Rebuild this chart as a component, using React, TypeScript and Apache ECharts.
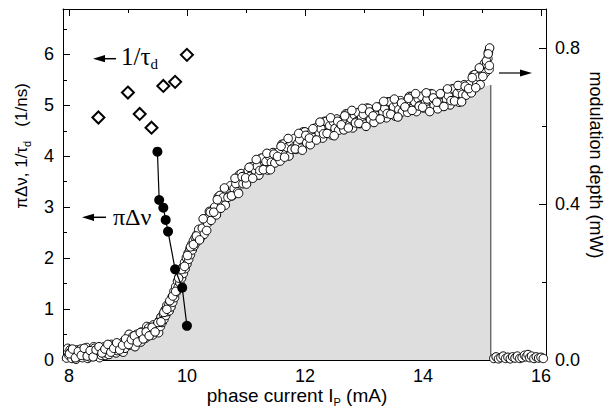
import React, { useEffect, useRef } from 'react';
import * as echarts from 'echarts';

// ---- axis ticks ----
const xTickMajor = [8, 10, 12, 14, 16];
const xTickMinor = [9, 11, 13, 15];
const yLeftMajor = [0, 1, 2, 3, 4, 5, 6];
const yLeftMinor = [0.5, 1.5, 2.5, 3.5, 4.5, 5.5, 6.5];
const yRightMajor = [0, 0.4, 0.8];
const yRightMinor = [0.2, 0.6];

// ---- data ----
// 1/tau_d (1/ns), open diamonds, left axis
const invTauD: number[][] = [
  [8.5, 4.76], [9.0, 5.25], [9.2, 4.83], [9.4, 4.56], [9.6, 5.38], [9.8, 5.46], [10.0, 5.99],
];
// pi*delta nu (1/ns), filled circles + line, left axis
const piDeltaNu: number[][] = [
  [9.5, 4.09], [9.53, 3.14], [9.6, 2.99], [9.64, 2.75], [9.68, 2.52], [9.8, 1.78], [9.92, 1.42], [10.0, 0.67],
];
// modulation depth (mW), open circles, right axis - first sweep
const modDepthA: number[][] = [
  [7.96, 0.005], [7.98, 0.03], [8.0, 0.012], [8.02, 0.026], [8.03, 0.02], [8.05, 0.004], [8.08, 0.018], [8.1, 0.01],
  [8.12, 0.002], [8.13, 0.026], [8.15, 0.008], [8.18, 0.016], [8.2, 0.028], [8.22, 0.02], [8.23, 0.006], [8.25, 0.02],
  [8.28, 0.012], [8.3, 0.032], [8.32, 0.004], [8.33, 0.016], [8.35, 0.008], [8.38, 0.024], [8.4, 0.018], [8.42, 0.034],
  [8.43, 0.03], [8.45, 0.01], [8.48, 0.022], [8.5, 0.016], [8.52, 0.006], [8.53, 0.028], [8.55, 0.012], [8.58, 0.024],
  [8.6, 0.034], [8.62, 0.012], [8.63, 0.018], [8.65, 0.026], [8.68, 0.014], [8.7, 0.03], [8.72, 0.04], [8.73, 0.022],
  [8.75, 0.036], [8.78, 0.026], [8.8, 0.018], [8.82, 0.024], [8.83, 0.032], [8.85, 0.04], [8.88, 0.028], [8.9, 0.036],
  [8.92, 0.02], [8.93, 0.048], [8.95, 0.03], [8.98, 0.042], [9.0, 0.055], [9.02, 0.066], [9.03, 0.038], [9.05, 0.046],
  [9.08, 0.06], [9.1, 0.044], [9.12, 0.034], [9.13, 0.052], [9.15, 0.066], [9.18, 0.05], [9.2, 0.058], [9.22, 0.046],
  [9.23, 0.072], [9.25, 0.06], [9.28, 0.068], [9.3, 0.056], [9.32, 0.086], [9.33, 0.074], [9.35, 0.082], [9.38, 0.066],
  [9.4, 0.076], [9.42, 0.064], [9.43, 0.09], [9.45, 0.078], [9.48, 0.086], [9.5, 0.092], [9.51, 0.078], [9.52, 0.07],
  [9.53, 0.1], [9.55, 0.086], [9.56, 0.11], [9.58, 0.096], [9.6, 0.118], [9.61, 0.104], [9.63, 0.128], [9.64, 0.114],
  [9.66, 0.14], [9.67, 0.124], [9.69, 0.14], [9.7, 0.126], [9.72, 0.15], [9.73, 0.136], [9.75, 0.162], [9.76, 0.148],
  [9.78, 0.176], [9.79, 0.16], [9.81, 0.188], [9.82, 0.174], [9.84, 0.202], [9.85, 0.186], [9.87, 0.214], [9.88, 0.198],
  [9.9, 0.226], [9.91, 0.21], [9.93, 0.238], [9.94, 0.222], [9.96, 0.25], [9.97, 0.234], [9.99, 0.262], [10.0, 0.246],
  [10.02, 0.274], [10.03, 0.258], [10.05, 0.284], [10.06, 0.27], [10.08, 0.296], [10.09, 0.282], [10.11, 0.306], [10.12, 0.292],
  [10.14, 0.314], [10.15, 0.3], [10.17, 0.322], [10.18, 0.308],
  [10.2, 0.335], [10.23, 0.314], [10.26, 0.338], [10.29, 0.322], [10.32, 0.362], [10.35, 0.351], [10.38, 0.381], [10.41, 0.358],
  [10.44, 0.378], [10.47, 0.392], [10.5, 0.372], [10.53, 0.418], [10.56, 0.422], [10.59, 0.398], [10.62, 0.418], [10.65, 0.397],
  [10.68, 0.434], [10.71, 0.42], [10.74, 0.447], [10.77, 0.421], [10.8, 0.44], [10.83, 0.452], [10.86, 0.431], [10.89, 0.475],
  [10.92, 0.478], [10.95, 0.452], [10.98, 0.472], [11.01, 0.451], [11.04, 0.486], [11.07, 0.471], [11.1, 0.496], [11.13, 0.469],
  [11.16, 0.486], [11.19, 0.497], [11.22, 0.474], [11.25, 0.517], [11.28, 0.518], [11.31, 0.491], [11.34, 0.509], [11.37, 0.487],
  [11.4, 0.522], [11.43, 0.507], [11.46, 0.532], [11.49, 0.505], [11.52, 0.522], [11.55, 0.533], [11.58, 0.51], [11.61, 0.553],
  [11.64, 0.554], [11.67, 0.527], [11.7, 0.545], [11.73, 0.523], [11.76, 0.558], [11.79, 0.543], [11.82, 0.568], [11.85, 0.54],
  [11.88, 0.556], [11.91, 0.566], [11.94, 0.543], [11.97, 0.585], [12.0, 0.585], [12.03, 0.557], [12.06, 0.575], [12.09, 0.552],
  [12.12, 0.586], [12.15, 0.57], [12.18, 0.595], [12.21, 0.567], [12.24, 0.583], [12.27, 0.593], [12.3, 0.569], [12.33, 0.612],
  [12.36, 0.612], [12.39, 0.584], [12.42, 0.601], [12.45, 0.577], [12.48, 0.611], [12.51, 0.594], [12.54, 0.618], [12.57, 0.589],
  [12.6, 0.605], [12.63, 0.614], [12.66, 0.59], [12.69, 0.631], [12.72, 0.631], [12.75, 0.602], [12.78, 0.619], [12.81, 0.595],
  [12.84, 0.628], [12.87, 0.611], [12.9, 0.634], [12.93, 0.606], [12.96, 0.621], [12.99, 0.63], [13.02, 0.605], [13.05, 0.646],
  [13.08, 0.645], [13.11, 0.616], [13.14, 0.633], [13.17, 0.609], [13.2, 0.642], [13.23, 0.626], [13.26, 0.649], [13.29, 0.621],
  [13.32, 0.636], [13.35, 0.646], [13.38, 0.621], [13.41, 0.662], [13.44, 0.662], [13.47, 0.633], [13.5, 0.649], [13.53, 0.625],
  [13.56, 0.658], [13.59, 0.642], [13.62, 0.665], [13.65, 0.636], [13.68, 0.651], [13.71, 0.66], [13.74, 0.635], [13.77, 0.676],
  [13.8, 0.675], [13.83, 0.646], [13.86, 0.662], [13.89, 0.637], [13.92, 0.67], [13.95, 0.653], [13.98, 0.676], [14.01, 0.646],
  [14.04, 0.66], [14.07, 0.669], [14.1, 0.643], [14.13, 0.683], [14.16, 0.682], [14.19, 0.652], [14.22, 0.668], [14.25, 0.644],
  [14.28, 0.676], [14.31, 0.659], [14.34, 0.682], [14.37, 0.653], [14.4, 0.668], [14.43, 0.678], [14.46, 0.654], [14.49, 0.695],
  [14.52, 0.695], [14.55, 0.667], [14.58, 0.684], [14.61, 0.661], [14.64, 0.696], [14.67, 0.681], [14.7, 0.706], [14.73, 0.679],
  [14.76, 0.696], [14.79, 0.707], [14.82, 0.685], [14.85, 0.73], [14.88, 0.732], [14.91, 0.707], [14.94, 0.726], [14.97, 0.706],
  [15.0, 0.742], [15.02, 0.731], [15.04, 0.76], [15.06, 0.737], [15.08, 0.758], [15.1, 0.773], [15.11, 0.79], [15.12, 0.745],
  [15.13, 0.8],
];
// modulation depth (mW) - second sweep
const modDepthB: number[][] = [
  [8.01, 0.016], [8.06, 0.028], [8.11, 0.006], [8.16, 0.022], [8.21, 0.012], [8.26, 0.03], [8.31, 0.01], [8.36, 0.024],
  [8.41, 0.008], [8.46, 0.026], [8.51, 0.034], [8.56, 0.018], [8.61, 0.028], [8.66, 0.04], [8.71, 0.02], [8.76, 0.03],
  [8.81, 0.044], [8.86, 0.026], [8.91, 0.038], [8.96, 0.054], [9.01, 0.04], [9.06, 0.052], [9.11, 0.062], [9.16, 0.046],
  [9.21, 0.07], [9.26, 0.054], [9.31, 0.072], [9.36, 0.062], [9.41, 0.084], [9.46, 0.072], [9.51, 0.096], [9.56, 0.098],
  [9.61, 0.122], [9.66, 0.13], [9.71, 0.152], [9.76, 0.164], [9.81, 0.176], [9.86, 0.21], [9.91, 0.232], [9.96, 0.24],
  [10.01, 0.268], [10.06, 0.29], [10.11, 0.296], [10.16, 0.318],
  [10.215, 0.308], [10.275, 0.362], [10.335, 0.332], [10.395, 0.379], [10.455, 0.379], [10.515, 0.411], [10.575, 0.389], [10.635, 0.441],
  [10.695, 0.417], [10.755, 0.421], [10.815, 0.466], [10.875, 0.427], [10.935, 0.47], [10.995, 0.467], [11.055, 0.494], [11.115, 0.466],
  [11.175, 0.514], [11.235, 0.486], [11.295, 0.488], [11.355, 0.53], [11.415, 0.488], [11.475, 0.528], [11.535, 0.522], [11.595, 0.548],
  [11.655, 0.52], [11.715, 0.568], [11.775, 0.54], [11.835, 0.541], [11.895, 0.581], [11.955, 0.538], [12.015, 0.576], [12.075, 0.569],
  [12.135, 0.593], [12.195, 0.564], [12.255, 0.61], [12.315, 0.58], [12.375, 0.581], [12.435, 0.621], [12.495, 0.575], [12.555, 0.612],
  [12.615, 0.603], [12.675, 0.626], [12.735, 0.595], [12.795, 0.64], [12.855, 0.608], [12.915, 0.607], [12.975, 0.645], [13.035, 0.599],
  [13.095, 0.636], [13.155, 0.626], [13.215, 0.649], [13.275, 0.618], [13.335, 0.663], [13.395, 0.632], [13.455, 0.63], [13.515, 0.669],
  [13.575, 0.623], [13.635, 0.659], [13.695, 0.649], [13.755, 0.671], [13.815, 0.64], [13.875, 0.683], [13.935, 0.651], [13.995, 0.648],
  [14.055, 0.685], [14.115, 0.637], [14.175, 0.672], [14.235, 0.661], [14.295, 0.683], [14.355, 0.65], [14.415, 0.695], [14.475, 0.665],
  [14.535, 0.664], [14.595, 0.704], [14.655, 0.662], [14.715, 0.702], [14.775, 0.696], [14.835, 0.724], [14.895, 0.698], [14.955, 0.749],
  [15.015, 0.727], [15.075, 0.767], [15.105, 0.785], [15.125, 0.755],
];
// modulation depth beyond the self-pulsation range (mW)
const modDepthOff: number[][] = [
  [15.2, 0.004], [15.24, 0.008], [15.28, 0.003], [15.32, 0.006], [15.36, 0.01], [15.4, 0.004], [15.44, 0.007], [15.48, 0.003],
  [15.52, 0.008], [15.56, 0.005], [15.6, 0.01], [15.64, 0.004], [15.68, 0.006], [15.72, 0.012], [15.75, 0.008], [15.78, 0.014],
  [15.81, 0.006], [15.84, 0.01], [15.88, 0.004], [15.92, 0.008], [15.96, 0.005], [16.0, 0.007], [16.04, 0.004],
];
// shaded self-pulsation region upper edge (mW)
const pulsationEdge: number[][] = [
  [7.97, 0], [8.2, 0.012], [8.6, 0.022], [9.0, 0.035], [9.3, 0.055], [9.5, 0.078], [9.7, 0.12], [9.8, 0.15],
  [9.9, 0.19], [10.0, 0.23], [10.1, 0.27], [10.2, 0.3], [10.4, 0.355], [10.6, 0.4], [10.8, 0.43], [11.0, 0.46],
  [11.4, 0.5], [11.8, 0.54], [12.2, 0.57], [12.6, 0.595], [13.0, 0.612], [13.4, 0.63], [13.8, 0.645], [14.2, 0.652],
  [14.6, 0.67], [14.8, 0.682], [15.0, 0.7], [15.15, 0.705], [15.15, 0],
];
const cutoffLine: number[][] = [[15.15, 0], [15.15, 0.705]];

const SANS = '"Liberation Sans", Arial, Helvetica, sans-serif';
const SERIF = '"Liberation Serif", "Times New Roman", serif';

const X_MIN = 7.9;
const X_MAX = 16.085;

function tickAxis(kind: 'x' | 'y', position: string, min: number, max: number, values: number[], len: number, main: boolean, labelValues?: number[], fmt?: (v: number) => string): any {
  return {
    type: 'value',
    position,
    min,
    max,
    splitLine: { show: false },
    axisLine: { show: main, onZero: false, lineStyle: { color: '#000', width: 1 } },
    axisTick: { show: true, inside: true, length: len, customValues: values, lineStyle: { color: '#000', width: 1 } },
    axisLabel: labelValues
      ? {
          show: true,
          customValues: labelValues,
          color: '#000',
          fontSize: 18,
          fontFamily: SANS,
          margin: kind === 'x' ? 7 : 9,
          formatter: fmt,
        }
      : { show: false },
  };
}

const openCircle = { color: '#fff', borderColor: '#000', borderWidth: 1, opacity: 1 };

export default function App() {
  const ref = useRef<HTMLDivElement>(null);
  useEffect(() => {
    if (!ref.current) return;
    const chart = echarts.init(ref.current, undefined, { renderer: 'svg' });
    const arrowHeadL = (x: number, y: number) => ({
      type: 'polygon',
      shape: { points: [[x, y], [x + 12, y - 3.6], [x + 12, y + 3.6]] },
      style: { fill: '#000' },
    });
    const option: any = {
      animation: false,
      backgroundColor: '#fff',
      grid: { left: 63, right: 59, top: 9, bottom: 50, containLabel: false },
      xAxis: [
        tickAxis('x', 'bottom', X_MIN, X_MAX, xTickMajor, 7, true, xTickMajor, (v: number) => String(v)),
        tickAxis('x', 'bottom', X_MIN, X_MAX, xTickMinor, 4, false),
        tickAxis('x', 'top', X_MIN, X_MAX, xTickMajor, 7, true),
        tickAxis('x', 'top', X_MIN, X_MAX, xTickMinor, 4, false),
      ],
      yAxis: [
        tickAxis('y', 'left', 0, 6.89, yLeftMajor, 7, true, yLeftMajor, (v: number) => String(v)),
        tickAxis('y', 'right', 0, 0.9, yRightMajor, 7, true, yRightMajor, (v: number) => v.toFixed(1)),
        tickAxis('y', 'left', 0, 6.89, yLeftMinor, 4, false),
        tickAxis('y', 'right', 0, 0.9, yRightMinor, 4, false),
      ],
      series: [
        {
          type: 'line',
          xAxisIndex: 0,
          yAxisIndex: 1,
          data: pulsationEdge,
          symbol: 'none',
          lineStyle: { width: 0, opacity: 0 },
          areaStyle: { color: '#dedede', opacity: 1 },
          z: 1,
          silent: true,
        },
        {
          type: 'line',
          xAxisIndex: 0,
          yAxisIndex: 1,
          data: cutoffLine,
          symbol: 'none',
          lineStyle: { color: '#333', width: 1 },
          z: 2,
          silent: true,
        },
        {
          type: 'scatter',
          xAxisIndex: 0,
          yAxisIndex: 1,
          data: modDepthA.concat(modDepthB),
          symbol: 'circle',
          symbolSize: 8.5,
          itemStyle: openCircle,
          z: 3,
        },
        {
          type: 'scatter',
          xAxisIndex: 0,
          yAxisIndex: 1,
          data: modDepthOff,
          symbol: 'circle',
          symbolSize: 8.5,
          itemStyle: openCircle,
          z: 3,
        },
        {
          type: 'scatter',
          xAxisIndex: 0,
          yAxisIndex: 0,
          data: invTauD,
          symbol: 'diamond',
          symbolSize: 12,
          itemStyle: { color: '#fff', borderColor: '#000', borderWidth: 2, opacity: 1 },
          z: 4,
        },
        {
          type: 'line',
          xAxisIndex: 0,
          yAxisIndex: 0,
          data: piDeltaNu,
          symbol: 'circle',
          symbolSize: 10,
          showSymbol: true,
          itemStyle: { color: '#000', borderColor: '#000', borderWidth: 0 },
          lineStyle: { color: '#000', width: 1.2 },
          z: 5,
        },
      ],
      graphic: [
        // axis titles
        {
          type: 'text',
          x: 297,
          y: 395,
          style: {
            text: 'phase current I{sub|P} (mA)',
            fontSize: 19,
            fontFamily: SANS,
            fill: '#000',
            align: 'center',
            verticalAlign: 'middle',
            lineHeight: 24,
            rich: { sub: { fontSize: 11, fontFamily: SANS, verticalAlign: 'bottom', lineHeight: 8, fill: '#000' } },
          },
        },
        {
          type: 'text',
          x: 21,
          y: 146,
          rotation: Math.PI / 2,
          style: {
            text: 'πΔν, 1/τ{sub|d}   (1/ns)',
            fontSize: 17,
            fontFamily: SANS,
            fill: '#000',
            align: 'center',
            verticalAlign: 'middle',
            lineHeight: 22,
            rich: { sub: { fontSize: 11, fontFamily: SANS, verticalAlign: 'bottom', lineHeight: 8, fill: '#000' } },
          },
        },
        {
          type: 'text',
          x: 596,
          y: 165,
          rotation: -Math.PI / 2,
          style: {
            text: 'modulation depth (mW)',
            fontSize: 18,
            fontFamily: SANS,
            fill: '#000',
            align: 'center',
            verticalAlign: 'middle',
          },
        },
        // annotations
        { type: 'line', shape: { x1: 103, y1: 58.7, x2: 116, y2: 58.7 }, style: { stroke: '#000', lineWidth: 1.5 } },
        arrowHeadL(93, 58.7),
        {
          type: 'text',
          x: 121,
          y: 56,
          style: {
            text: '1/τ{sub|d}',
            fontSize: 25,
            fontFamily: SERIF,
            fill: '#000',
            align: 'left',
            verticalAlign: 'middle',
            lineHeight: 30,
            rich: { sub: { fontSize: 15, fontFamily: SERIF, verticalAlign: 'bottom', lineHeight: 8, fill: '#000' } },
          },
        },
        { type: 'line', shape: { x1: 92, y1: 217.3, x2: 106, y2: 217.3 }, style: { stroke: '#000', lineWidth: 1.5 } },
        arrowHeadL(82, 217.3),
        {
          type: 'text',
          x: 113,
          y: 217,
          style: { text: 'πΔν', fontSize: 24, fontFamily: SERIF, fill: '#000', align: 'left', verticalAlign: 'middle' },
        },
        { type: 'line', shape: { x1: 499, y1: 73, x2: 522, y2: 73 }, style: { stroke: '#000', lineWidth: 1.2 } },
        {
          type: 'polygon',
          shape: { points: [[532, 73], [520, 69.4], [520, 76.6]] },
          style: { fill: '#000' },
        },
        {
          type: 'text',
          x: 347,
          y: 249,
          style: {
            text: 'self-pulsations',
            fontSize: 18,
            fontWeight: 'bold',
            fontFamily: SANS,
            fill: '#000',
            align: 'center',
            verticalAlign: 'middle',
          },
        },
        { type: 'line', shape: { x1: 245, y1: 293, x2: 245, y2: 330 }, style: { stroke: '#000', lineWidth: 3.2 } },
        {
          type: 'polygon',
          shape: { points: [[240.5, 323], [249.5, 323], [245, 347]] },
          style: { fill: '#000' },
        },
      ],
    };
    chart.setOption(option);
    return () => chart.dispose();
  }, []);
  return <div ref={ref} style={{ width: 605, height: 410, position: 'absolute', left: 0, top: 0 }} />;
}
